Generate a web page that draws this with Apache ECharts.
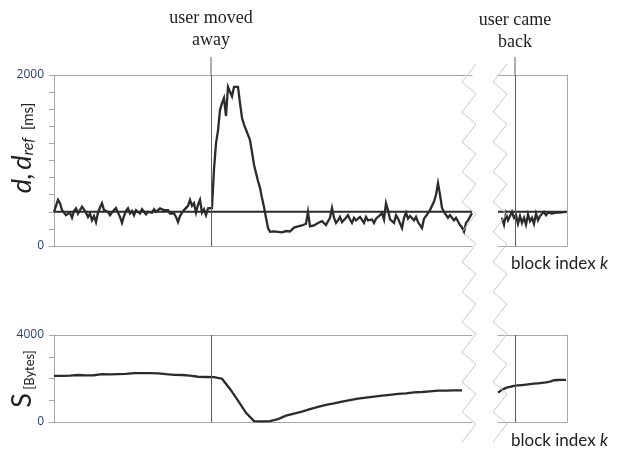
<!DOCTYPE html>
<html>
<head>
<meta charset="utf-8">
<script src="https://cdn.jsdelivr.net/npm/echarts@6/dist/echarts.min.js"></script>
<style>
  html, body { margin: 0; padding: 0; background: #fff; }
  #chart { width: 618px; height: 450px; }
</style>
</head>
<body>
<div id="chart"></div>
<script>
// block index ranges of the two visible pieces of the broken x axis
var leftRange = [0, 418];
var rightRange = [1000, 1069];
var movedAwayK = 157;
var cameBackK = 1017;
var dRef = 400;
var dTickLabels = [0, 2000];
var sTickLabels = [0, 4000];

// delay d [ms], left piece: one value every 2 blocks from k = 0
var dLeft = [
  400, 470, 540, 500, 420, 390, 360, 380, 390, 330,
  410, 440, 380, 390, 460, 480, 390, 340, 380, 300,
  350, 280, 390, 450, 500, 420, 440, 400, 360, 390,
  420, 445, 390, 340, 270, 350, 410, 440, 380, 410,
  360, 420, 400, 380, 430, 400, 370, 400, 420, 390,
  430, 400, 410, 440, 430, 420, 440, 420, 380, 400,
  380, 340, 280, 350, 390, 420, 400, 470, 540, 470,
  500, 390, 480, 540, 390, 430, 360, 440, 450, 445,
  900, 1200, 1350, 1590, 1670, 1730, 1520, 1860, 1840, 1750,
  1860, 1880, 1860, 1670, 1500, 1420, 1360, 1300, 1240, 1100,
  950, 855, 760, 680, 560, 455, 330, 210, 165, 160,
  170, 150, 165, 175, 160, 165, 175, 160, 170, 190,
  215, 200, 230, 220, 240, 220, 260, 400, 230, 210,
  240, 260, 270, 250, 290, 270, 245, 290, 330, 445,
  330, 270, 300, 340, 280, 300, 330, 360, 310, 270,
  330, 300, 320, 340, 330, 270, 340, 300, 280, 310,
  270, 320, 340, 360, 385, 310, 500, 420, 310, 300,
  270, 360, 320, 300, 210, 330, 390, 320, 350, 360,
  300, 340, 280, 300, 210, 320, 350, 330, 420, 440,
  520, 600, 735, 600, 445, 400, 380, 330, 360, 340,
  300, 330, 310, 245, 220, 165, 270, 300, 320, 385
];
// delay d [ms], right piece: every 2 blocks from k = 1004
var dRightStart = 1004;
var dRight = [
  330, 250, 380, 300, 280, 400, 330, 360, 260, 350,
  270, 330, 250, 370, 290, 330, 260, 380, 300, 350,
  330, 400, 360, 390, 370, 380, 400, 390, 400, 390,
  400, 395, 400
];
// buffer S [Bytes], left piece: every 8 blocks from k = 0
var sLeft = [
  2120, 2120, 2130, 2160, 2140, 2150, 2200, 2190, 2200, 2210,
  2250, 2250, 2250, 2240, 2200, 2170, 2160, 2130, 2080, 2070,
  2060, 1990, 1520, 980, 420, 40, 30, 40, 130, 290,
  390, 480, 590, 700, 790, 860, 940, 1010, 1070, 1120,
  1170, 1210, 1250, 1290, 1320, 1360, 1380, 1410, 1440, 1440,
  1450, 1450
];
// buffer S [Bytes], right piece: every 4 blocks from k = 1000
var sRightStart = 1000;
var sRight = [
  1350, 1480, 1570, 1620, 1660, 1680, 1700, 1720, 1740, 1760,
  1780, 1800, 1820, 1860, 1920, 1930, 1940, 1940
];

function pairs(start, step, arr) {
  return arr.map(function (v, i) { return [start + i * step, v]; });
}

var frameColor = "#a8a8a8";
var dataColor = "#2b2b2b";
var labelColor = "#243f73";

function xAx(grid, range, pos) {
  return {
    type: "value", gridIndex: grid, position: pos,
    min: range[0], max: range[1],
    axisLine: { show: true, onZero: false, lineStyle: { color: frameColor, width: 1 } },
    axisTick: { show: false }, axisLabel: { show: false }, splitLine: { show: false }
  };
}

function yLeft(grid, max, interval, shown) {
  return {
    type: "value", gridIndex: grid, min: 0, max: max, interval: interval,
    axisLine: { show: true, lineStyle: { color: frameColor, width: 1 } },
    axisTick: { show: true, length: 5, lineStyle: { color: frameColor } },
    axisLabel: {
      margin: 10, color: labelColor, fontSize: 12, fontFamily: "Open Sans",
      formatter: function (v) { return shown.indexOf(v) >= 0 ? String(v) : ""; }
    },
    splitLine: { show: false }
  };
}

function yRight(grid, max) {
  return {
    type: "value", gridIndex: grid, position: "right", min: 0, max: max,
    axisLine: { show: true, lineStyle: { color: frameColor, width: 1 } },
    axisTick: { show: false }, axisLabel: { show: false }, splitLine: { show: false }
  };
}

function vLine(k) {
  return {
    silent: true, symbol: "none", label: { show: false },
    lineStyle: { color: "#5a5a5a", width: 1, type: "solid" },
    data: [{ xAxis: k }]
  };
}

function lineSeries(xi, yi, data, width, mark) {
  var s = {
    type: "line", xAxisIndex: xi, yAxisIndex: yi, data: data,
    showSymbol: false, symbol: "none",
    lineStyle: { color: dataColor, width: width, join: "miter" }
  };
  if (mark !== undefined) s.markLine = vLine(mark);
  return s;
}

var chart = echarts.init(document.getElementById("chart"));
chart.setOption({
  animation: false,
  backgroundColor: "#fff",
  grid: [
    { left: 54, top: 75, width: 418, height: 171, containLabel: false, outerBoundsMode: "none" },
    { left: 498, top: 75, width: 69, height: 171, containLabel: false, outerBoundsMode: "none" },
    { left: 54, top: 335, width: 418, height: 87, containLabel: false, outerBoundsMode: "none" },
    { left: 498, top: 335, width: 69, height: 87, containLabel: false, outerBoundsMode: "none" }
  ],
  xAxis: [
    xAx(0, leftRange, "bottom"), xAx(0, leftRange, "top"),
    xAx(1, rightRange, "bottom"), xAx(1, rightRange, "top"),
    xAx(2, leftRange, "bottom"), xAx(2, leftRange, "top"),
    xAx(3, rightRange, "bottom"), xAx(3, rightRange, "top")
  ],
  yAxis: [
    yLeft(0, 2000, 200, dTickLabels),
    yRight(1, 2000),
    yLeft(2, 4000, 1000, sTickLabels),
    yRight(3, 4000)
  ],
  series: [
    lineSeries(0, 0, [[leftRange[0], dRef], [leftRange[1], dRef]], 2),
    lineSeries(0, 0, pairs(0, 2, dLeft), 2.3, movedAwayK),
    lineSeries(2, 1, [[rightRange[0], dRef], [rightRange[1], dRef]], 2),
    lineSeries(2, 1, pairs(dRightStart, 2, dRight), 2.3, cameBackK),
    lineSeries(4, 2, pairs(0, 8, sLeft), 2.3, movedAwayK),
    lineSeries(6, 3, pairs(sRightStart, 4, sRight), 2.3, cameBackK)
  ]
});

// annotation positions follow the axes
var xAway = chart.convertToPixel({ xAxisIndex: 0 }, movedAwayK);
var xBack = chart.convertToPixel({ xAxisIndex: 2 }, cameBackK);
var topY = chart.convertToPixel({ yAxisIndex: 0 }, 2000);

// the two zigzag break marks
function zigzag(x0) {
  var pts = [], y = 64, right = true;
  while (y < 448) {
    pts.push([right ? x0 + 14 : x0, y]);
    y += right ? 18 : 12;
    right = !right;
  }
  return {
    type: "polyline", silent: true, z: 50,
    shape: { points: pts },
    style: { stroke: "#c9c9c9", lineWidth: 1, fill: null }
  };
}

var serif = "Liberation Serif";
var sans = "Lato";

chart.setOption({
  graphic: [
    zigzag(462),
    zigzag(493),
    { type: "line", silent: true, shape: { x1: xAway, y1: 57, x2: xAway, y2: topY },
      style: { stroke: "#5a5a5a", lineWidth: 1 } },
    { type: "line", silent: true, shape: { x1: xBack, y1: 57, x2: xBack, y2: topY },
      style: { stroke: "#5a5a5a", lineWidth: 1 } },
    { type: "text", silent: true, x: xAway, y: 7,
      style: { text: "user moved\naway", font: "18px " + serif, fill: "#222",
               align: "center", verticalAlign: "top", lineHeight: 22 } },
    { type: "text", silent: true, x: xBack, y: 9,
      style: { text: "user came\nback", font: "18px " + serif, fill: "#222",
               align: "center", verticalAlign: "top", lineHeight: 22 } },
    { type: "text", silent: true, x: 511, y: 264,
      style: { text: "{n|block index }{i|k}", align: "left", verticalAlign: "middle",
               rich: { n: { fontFamily: sans, fontSize: 17, fill: "#222", color: "#222" },
                       i: { fontFamily: sans, fontSize: 17, fontStyle: "italic", fill: "#222", color: "#222" } } } },
    { type: "text", silent: true, x: 511, y: 441,
      style: { text: "{n|block index }{i|k}", align: "left", verticalAlign: "middle",
               rich: { n: { fontFamily: sans, fontSize: 17, fill: "#222", color: "#222" },
                       i: { fontFamily: sans, fontSize: 17, fontStyle: "italic", fill: "#222", color: "#222" } } } },
    { type: "text", silent: true, x: 21, y: 148, rotation: Math.PI / 2,
      style: { text: "{d|d,\u2009d}{r|ref}{u|  [ms]}", align: "center", verticalAlign: "middle",
               rich: {
                 d: { fontFamily: sans, fontSize: 27, fontStyle: "italic", fill: "#222", color: "#222", verticalAlign: "bottom", lineHeight: 30 },
                 r: { fontFamily: sans, fontSize: 16, fontStyle: "italic", fill: "#222", color: "#222", verticalAlign: "bottom", lineHeight: 26 },
                 u: { fontFamily: sans, fontSize: 15, fill: "#222", color: "#222", verticalAlign: "bottom", lineHeight: 29 }
               } } },
    { type: "text", silent: true, x: 21, y: 379, rotation: Math.PI / 2,
      style: { text: "{s|S}{u| [Bytes]}", align: "center", verticalAlign: "middle",
               rich: {
                 s: { fontFamily: sans, fontSize: 27, fill: "#222", color: "#222", verticalAlign: "bottom", lineHeight: 30 },
                 u: { fontFamily: sans, fontSize: 13, fill: "#222", color: "#222", verticalAlign: "bottom", lineHeight: 28 }
               } } }
  ]
});
</script>
</body>
</html>
